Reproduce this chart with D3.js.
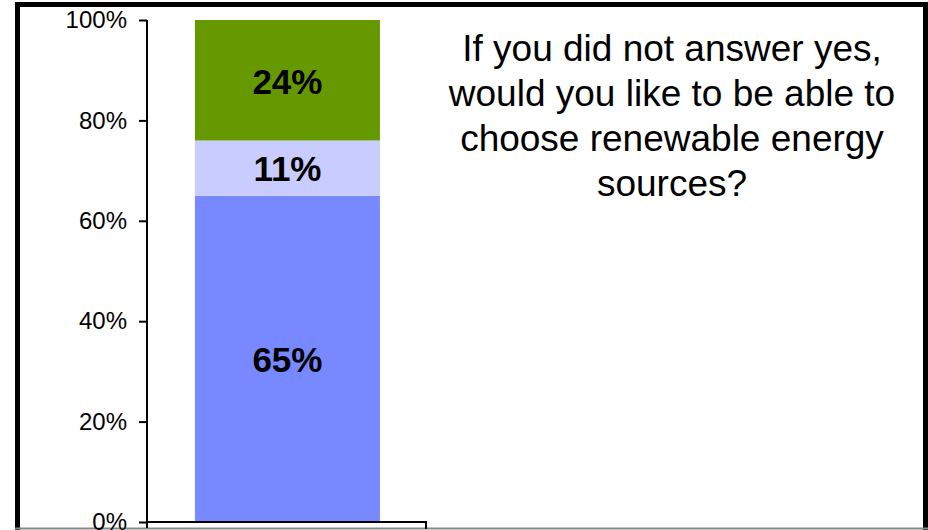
<!DOCTYPE html>
<html>
<head>
<meta charset="utf-8">
<script src="https://cdn.jsdelivr.net/npm/d3@7"></script>
<style>
  html, body { margin: 0; padding: 0; background: #fff; }
  svg { display: block; font-family: "Liberation Sans", Arial, Helvetica, sans-serif; }
</style>
</head>
<body>
<svg id="chart" width="928" height="530"></svg>
<script>
// Survey answers, stacked bottom to top
const categories = ["Responses"];
const seriesNames = ["Yes", "Not sure", "No"];
const seriesValues = [65, 11, 24];
const seriesColors = ["#7888FF", "#C8CCFF", "#669900"];
const tickValues = [0, 20, 40, 60, 80, 100];
const titleLines = [
  "If you did not answer yes,",
  "would you like to be able to",
  "choose renewable energy",
  "sources?"
];

const svg = d3.select("#chart");

// outer frame
svg.append("rect")
  .attr("x", 17.5).attr("y", 4.5)
  .attr("width", 908).attr("height", 540)
  .attr("fill", "#fff")
  .attr("stroke", "#000").attr("stroke-width", 5);
svg.append("line")
  .attr("x1", 15).attr("x2", 928)
  .attr("y1", 528.5).attr("y2", 528.5)
  .attr("stroke", "#888").attr("stroke-width", 2);

const y = d3.scaleLinear().domain([0, 100]).range([522, 20]);
const x = d3.scaleBand().domain(categories).range([147, 426])
  .paddingInner(0).paddingOuter(0.254).align(0.51);

// stack the series
const row = {};
seriesNames.forEach((n, i) => row[n] = seriesValues[i]);
const stacked = d3.stack().keys(seriesNames)([row]);

const bars = svg.append("g");
stacked.forEach((layer, i) => {
  const d = layer[0];
  bars.append("rect")
    .attr("x", x(categories[0]))
    .attr("width", x.bandwidth())
    .attr("y", y(d[1]))
    .attr("height", y(d[0]) - y(d[1]))
    .attr("fill", seriesColors[i]);
  bars.append("text")
    .attr("x", x(categories[0]) + x.bandwidth() / 2)
    .attr("y", (y(d[0]) + y(d[1])) / 2)
    .attr("dy", "0.38em")
    .attr("text-anchor", "middle")
    .attr("font-size", 35)
    .attr("font-weight", "bold")
    .attr("fill", "#000")
    .text(seriesValues[i] + "%");
});

// y axis
const yAxis = svg.append("g")
  .attr("transform", "translate(147,0)")
  .call(d3.axisLeft(y).tickValues(tickValues).tickFormat(d => d + "%")
    .tickSizeInner(8).tickSizeOuter(0).tickPadding(12));
yAxis.select(".domain").attr("stroke", "#000").attr("stroke-width", 2)
  .attr("d", "M0,20V528");
yAxis.selectAll(".tick line").attr("stroke", "#000").attr("stroke-width", 2);
yAxis.selectAll(".tick text")
  .attr("font-size", 24).attr("font-family", "Liberation Sans, Arial, sans-serif")
  .attr("fill", "#000");

// x axis baseline with end tick
const xAxis = svg.append("g")
  .attr("transform", "translate(0,522)")
  .call(d3.axisBottom(x).tickValues([]).tickSizeOuter(0));
xAxis.select(".domain").attr("stroke", "#000").attr("stroke-width", 2)
  .attr("d", "M147,0H426V7");

// title block
const title = svg.append("text")
  .attr("text-anchor", "middle")
  .attr("font-size", 37)
  .attr("fill", "#000");
titleLines.forEach((t, i) => {
  title.append("tspan")
    .attr("x", 672)
    .attr("y", 61 + i * 45)
    .text(t);
});
</script>
</body>
</html>
